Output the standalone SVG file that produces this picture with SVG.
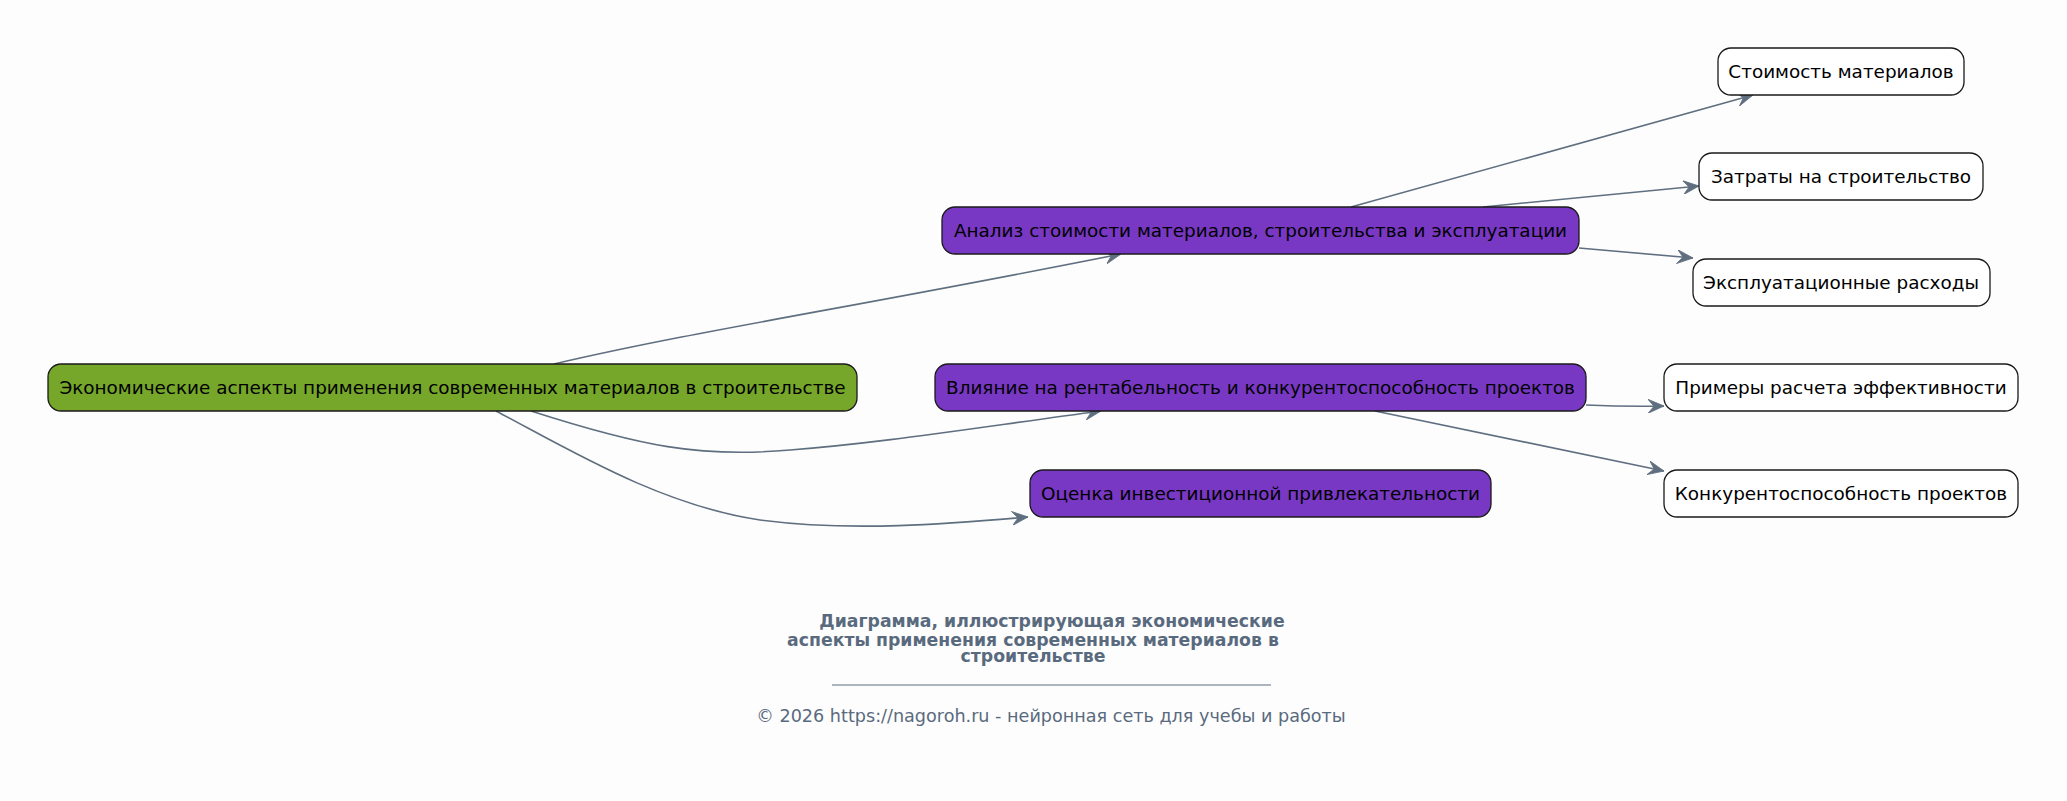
<svg xmlns="http://www.w3.org/2000/svg" width="2067" height="801" viewBox="0 0 2067 801">
<style>
.n rect{stroke:#1a1a1a;stroke-width:1.3}
.root rect{fill:#76a72a}
.mid rect{fill:#7838c4}
.leaf rect{fill:#ffffff}
.n text{font-family:"DejaVu Sans",sans-serif;font-size:18.4px;fill:#000;text-anchor:middle}
.e path{fill:none;stroke:#5f6f80;stroke-width:1.6;marker-end:url(#ah)}
.t{font-family:"DejaVu Sans",sans-serif;fill:#5a6a7e;text-anchor:middle}
</style>
<defs>
<marker id="ah" viewBox="0 0 16 14" refX="16" refY="7" markerWidth="16" markerHeight="14" markerUnits="userSpaceOnUse" orient="auto">
<path d="M0,0 L16,7 L0,14 L6,7 z" fill="#5f6f80" stroke="#5f6f80" stroke-width="0.8" stroke-linejoin="round"/>
</marker>
</defs>
<rect x="0" y="0" width="2067" height="801" fill="#fdfdfd"/>
<g id="edges" class="e">
<path d="M554,364 C700,330 850,308 1121,254"/>
<path d="M531,411 C640,446 700,458 790,450 C880,443 960,430 1101,411"/>
<path d="M496,411 C570,450 660,505 760,520 C850,532 950,524 1028,517"/>
<path d="M1351,207 L1753,95"/>
<path d="M1483,207 L1699,186"/>
<path d="M1579,248 L1693,258"/>
<path d="M1586,405 C1610,406 1635,406.5 1664,406"/>
<path d="M1375,411 L1664,471"/>
</g>
<g id="root" class="n root"><rect x="48" y="364" width="809" height="47" rx="13"/><text x="452.5" y="394">Экономические аспекты применения современных материалов в строительстве</text></g>
<g id="a" class="n mid"><rect x="942" y="207" width="637" height="47" rx="13"/><text x="1260.5" y="237">Анализ стоимости материалов, строительства и эксплуатации</text></g>
<g id="b" class="n mid"><rect x="935" y="364" width="651" height="47" rx="13"/><text x="1260.5" y="394">Влияние на рентабельность и конкурентоспособность проектов</text></g>
<g id="c" class="n mid"><rect x="1030" y="470" width="461" height="47" rx="13"/><text x="1260.5" y="500">Оценка инвестиционной привлекательности</text></g>
<g id="l1" class="n leaf"><rect x="1718" y="48" width="246" height="47" rx="13"/><text x="1841" y="78">Стоимость материалов</text></g>
<g id="l2" class="n leaf"><rect x="1699" y="153" width="284" height="47" rx="13"/><text x="1841" y="183">Затраты на строительство</text></g>
<g id="l3" class="n leaf"><rect x="1693" y="259" width="297" height="47" rx="13"/><text x="1841" y="289">Эксплуатационные расходы</text></g>
<g id="l4" class="n leaf"><rect x="1664" y="364" width="354" height="47" rx="13"/><text x="1841" y="394">Примеры расчета эффективности</text></g>
<g id="l5" class="n leaf"><rect x="1664" y="470" width="354" height="47" rx="13"/><text x="1841" y="500">Конкурентоспособность проектов</text></g>
<g id="title">
<text class="t" x="1052" y="627" font-size="17.3" font-weight="bold">Диаграмма, иллюстрирующая экономические</text>
<text class="t" x="1033" y="646" font-size="17.3" font-weight="bold">аспекты применения современных материалов в</text>
<text class="t" x="1033" y="662" font-size="17.3" font-weight="bold">строительстве</text>
<line x1="832" y1="685" x2="1271" y2="685" stroke="#5a6a7e" stroke-width="1"/>
<text class="t" x="1051" y="722" font-size="17.6">© 2026 https://nagoroh.ru - нейронная сеть для учебы и работы</text>
</g>
</svg>
